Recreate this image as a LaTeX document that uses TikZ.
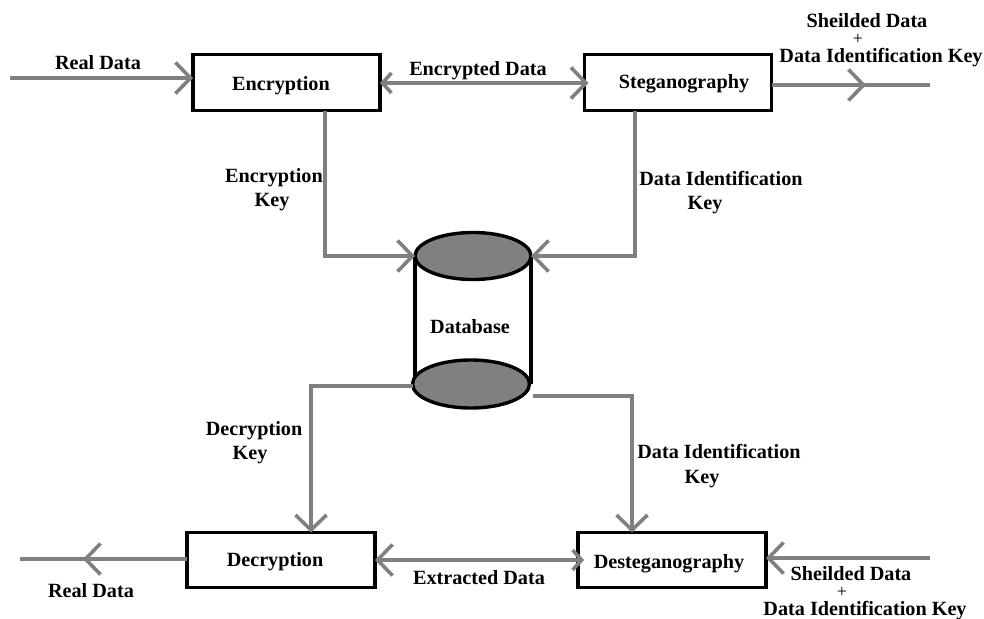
\documentclass[tikz,border=0pt]{standalone}
\usepackage{fontspec}
\setmainfont{Liberation Serif}
\usetikzlibrary{arrows.meta,shapes.geometric}
\definecolor{linegray}{HTML}{808080}
\tikzset{
  procbox/.style={draw=black,line width=3.4pt,fill=white,rectangle,inner sep=0pt,outer sep=0pt},
  dbcap/.style={draw=black,line width=3.4pt,fill=linegray,ellipse,inner sep=0pt,outer sep=0pt},
  lbl/.style={anchor=base,inner sep=0pt,outer sep=0pt,text=black,font=\fontsize{20.2pt}{22pt}\selectfont\bfseries},
  pluslbl/.style={anchor=base,inner sep=0pt,outer sep=0pt,text=black,font=\fontsize{18pt}{18pt}\selectfont},
  conn/.style={draw=linegray,line width=3.6pt},
  bighead/.style={-{Straight Barb[length=15pt,width=31pt,line width=3.6pt]}},
}
\begin{document}
\begin{tikzpicture}[x=1pt,y=-1pt]
\useasboundingbox[fill=white] (0,0) rectangle (984,618);
% coordinates
\coordinate (inA) at (10,78);
\coordinate (outA) at (930,85);
\coordinate (midA) at (866,85);
\coordinate (inB) at (930,558);
\coordinate (outB) at (20,559);
\coordinate (midB) at (83,559);
\coordinate (kneeA) at (325,256);
\coordinate (kneeB) at (635,256);
\coordinate (kneeC) at (311,386);
\coordinate (kneeD) at (632,396);
\coordinate (srcD) at (533,396);
% database
\draw[black,line width=3.4pt] (415,256) -- (415,384) (531,256) -- (531,384);
\node[dbcap,minimum width=116pt,minimum height=47pt] (dbtop) at (473,256) {};
\node[dbcap,minimum width=117pt,minimum height=48pt] (dbbot) at (471,384) {};
% boxes
\node[procbox,minimum width=187pt,minimum height=56pt] (enc) at (286.5,82.5) {};
\node[procbox,minimum width=187pt,minimum height=56pt] (steg) at (678,82.5) {};
\node[procbox,minimum width=188pt,minimum height=55pt] (dec) at (281,560) {};
\node[procbox,minimum width=188pt,minimum height=55pt] (dsteg) at (672,560) {};
% connectors
\draw[conn,bighead] (inA) -- (inA -| enc.west);
\draw[conn,{Straight Barb[length=9pt,width=20pt,line width=3.6pt]}-{Straight Barb[length=15pt,width=31pt,line width=3.6pt]}] (enc.east |- 0,83) -- ([xshift=4pt]steg.west |- 0,83);
\draw[conn] (steg.east |- outA) -- (outA);
\draw[conn,bighead] (steg.east |- outA) -- (midA);
\draw[conn,bighead] (enc.south -| kneeA) -- (kneeA) -- (dbtop.west);
\draw[conn,bighead] (steg.south -| kneeB) -- (kneeB) -- (dbtop.east);
\draw[conn,bighead] (dbbot.west |- kneeC) -- (kneeC) -- (kneeC |- dec.north);
\draw[conn,bighead] (srcD) -- (kneeD) -- (kneeD |- dsteg.north);
\draw[conn] (dec.west |- outB) -- (outB);
\draw[conn,bighead] (dec.west |- outB) -- (midB);
\draw[conn,{Straight Barb[length=15pt,width=31pt,line width=3.6pt]}-{Straight Barb[length=9pt,width=20pt,line width=3.6pt]}] (dec.east |- 0,560) -- ([xshift=6pt]dsteg.west |- 0,560);
\draw[conn,bighead] (inB) -- (inB -| dsteg.east);
% labels
\node[lbl] (t1) at (98,69) {Real Data};
\node[lbl] (t2) at (281,90) {Encryption};
\node[lbl] (t3) at (478,75) {Encrypted Data};
\node[lbl] (t4) at (684,88) {Steganography};
\node[lbl] (t5) at (867,28) {Sheilded Data};
\node[pluslbl] (t6) at (858,45) {+};
\node[lbl] (t7) at (881,63) {Data Identification Key};
\node[lbl] (t8) at (274,182) {Encryption};
\node[lbl] (t9) at (272,206) {Key};
\node[lbl] (t10) at (721,185) {Data Identification};
\node[lbl] (t11) at (705,209) {Key};
\node[lbl] (t12) at (470,333) {Database};
\node[lbl] (t13) at (254,435) {Decryption};
\node[lbl] (t14) at (250,459) {Key};
\node[lbl] (t15) at (719,458) {Data Identification};
\node[lbl] (t16) at (702,483) {Key};
\node[lbl] (t17) at (275,566) {Decryption};
\node[lbl] (t18) at (669,568) {Desteganography};
\node[lbl] (t19) at (479,584) {Extracted Data};
\node[lbl] (t20) at (91,597) {Real Data};
\node[lbl] (t21) at (851,580) {Sheilded Data};
\node[pluslbl] (t22) at (842,597) {+};
\node[lbl] (t23) at (865,615) {Data Identification Key};
\end{tikzpicture}
\end{document}
